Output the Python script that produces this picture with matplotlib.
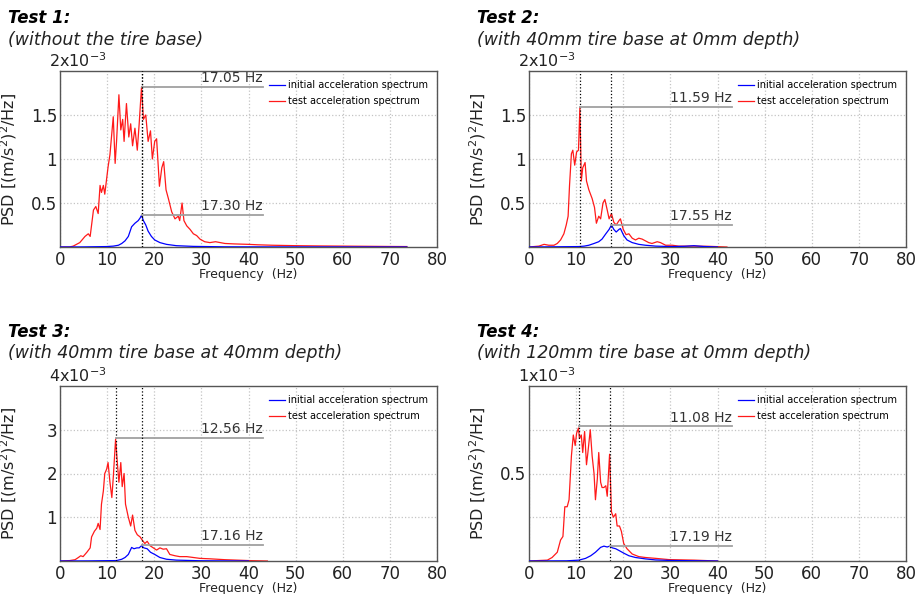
import numpy as np
import matplotlib
matplotlib.use('Agg')
import matplotlib.pyplot as plt

# ============================================================================
# DATA (PSD values in units of 1e-3 (m/s^2)^2/Hz)
# ============================================================================

titles = ['Test 1:', 'Test 2:', 'Test 3:', 'Test 4:']
subtitles = ['(without the tire base)',
             '(with 40mm tire base at 0mm depth)',
             '(with 40mm tire base at 40mm depth)',
             '(with 120mm tire base at 0mm depth)']

# --- Test 1 ---
t1_test_f = [0, 2, 2.8, 4.2, 5.3, 6.0, 6.4, 7.1, 7.6, 8.1, 8.5, 8.8, 9.2, 9.5, 10.2,
             10.6, 11.3, 11.7, 12.0, 12.5, 12.9, 13.3, 13.6, 14.1, 14.6, 15.0, 15.4,
             15.9, 16.4, 16.8, 17.3, 17.7, 18.2, 18.7, 19.2, 19.6, 20.1, 20.5, 21.1,
             21.6, 22.0, 22.5, 23.0, 23.7, 24.4, 25.1, 25.4, 25.9, 26.3, 26.9, 27.6,
             28.3, 29.0, 29.7, 30.7, 31.8, 33, 35, 37, 40, 42, 45, 50, 55, 60, 65, 70, 73.6]
t1_test_v = [0, 0, 0.01, 0.05, 0.12, 0.15, 0.12, 0.42, 0.46, 0.38, 0.70, 0.62, 0.70, 0.6, 0.91,
             1.05, 1.48, 0.95, 1.2, 1.73, 1.33, 1.45, 1.2, 1.63, 1.25, 1.4, 1.15,
             1.35, 1.1, 1.4, 1.82, 1.45, 1.5, 1.2, 1.32, 1.0, 1.2, 1.23, 0.69,
             0.9, 0.97, 0.65, 0.55, 0.4, 0.32, 0.35, 0.3, 0.5, 0.3, 0.24, 0.2,
             0.15, 0.13, 0.09, 0.06, 0.05, 0.06, 0.04, 0.035, 0.03, 0.025, 0.02, 0.015, 0.012, 0.01, 0.008, 0.006, 0.005]
t1_init_f = [0, 5, 9.9, 11.3, 12.4, 13.1, 13.8, 14.5, 15.2, 15.9, 16.6, 17.0, 17.3, 17.7,
             18.2, 18.7, 19.4, 20.1, 21.2, 22.6, 24.7, 28.3, 35, 45, 73.6]
t1_init_v = [0, 0.001, 0.005, 0.01, 0.02, 0.04, 0.07, 0.12, 0.23, 0.27, 0.3, 0.33, 0.36, 0.3,
             0.25, 0.18, 0.12, 0.08, 0.05, 0.03, 0.015, 0.007, 0.002, 0.001, 0]

# --- Test 2 ---
t2_test_f = [0, 2.1, 3.2, 4.2, 5.3, 6.0, 6.7, 7.4, 7.9, 8.3, 8.6, 9.0, 9.3, 9.7, 10.1, 10.5,
             10.8, 11.1, 11.4, 11.9, 12.2, 12.7, 13.4, 13.9, 14.3, 14.8, 15.2, 15.7, 16.1,
             16.6, 17.0, 17.5, 18.0, 18.5, 19.1, 19.4, 20.0, 20.6, 21.2, 21.9, 22.6, 23.3,
             24.0, 24.7, 25.4, 26.1, 27.2, 27.9, 29.0, 30.4, 31.8, 35, 38, 42]
t2_test_v = [0, 0.01, 0.03, 0.02, 0.02, 0.04, 0.08, 0.15, 0.25, 0.35, 0.7, 1.06, 1.1, 0.93, 1.08, 1.1,
             1.59, 0.75, 0.9, 0.96, 0.75, 0.65, 0.55, 0.45, 0.27, 0.35, 0.32, 0.5, 0.54,
             0.42, 0.32, 0.38, 0.28, 0.25, 0.3, 0.32, 0.2, 0.14, 0.15, 0.1, 0.08, 0.1,
             0.09, 0.07, 0.05, 0.04, 0.06, 0.05, 0.02, 0.02, 0.01, 0.01, 0.008, 0]
t2_init_f = [0, 5, 10.6, 11.7, 12.7, 13.8, 14.8, 15.5, 16.3, 17.0, 17.5, 18.0, 18.5, 19.1,
             19.4, 20.1, 20.8, 21.9, 23.3, 24.7, 26.9, 30, 33, 35, 37, 40]
t2_init_v = [0, 0.002, 0.005, 0.01, 0.02, 0.04, 0.06, 0.09, 0.15, 0.2, 0.25, 0.2, 0.17, 0.2,
             0.21, 0.13, 0.08, 0.05, 0.03, 0.02, 0.01, 0.005, 0.008, 0.015, 0.006, 0]

# --- Test 3 ---
t3_test_f = [0, 2.1, 3.2, 3.9, 4.4, 4.9, 5.7, 6.4, 6.7, 7.3, 7.8, 8.1, 8.5, 8.8, 9.2, 9.5,
             9.9, 10.2, 10.6, 11.0, 11.3, 11.8, 12.2, 12.5, 12.9, 13.2, 13.6, 13.9, 14.5,
             15.0, 15.4, 15.9, 16.4, 17.0, 17.3, 18.0, 18.5, 19.1, 19.8, 20.5, 21.2, 21.9,
             22.6, 23.3, 24.4, 25.4, 26.9, 28.3, 29.7, 31.8, 35, 40, 44]
t3_test_v = [0, 0.01, 0.03, 0.08, 0.12, 0.1, 0.2, 0.3, 0.55, 0.68, 0.75, 0.86, 0.72, 1.3, 1.6, 2.0,
             2.1, 2.25, 1.8, 1.45, 1.9, 2.79, 2.2, 1.8, 2.25, 1.7, 2.0, 1.3, 1.0,
             0.8, 1.05, 0.7, 0.6, 0.55, 0.5, 0.4, 0.45, 0.35, 0.3, 0.25, 0.3, 0.27,
             0.28, 0.15, 0.12, 0.1, 0.1, 0.08, 0.06, 0.05, 0.03, 0.01, 0]
t3_init_f = [0, 6, 12.0, 13.1, 13.8, 14.5, 15.2, 15.7, 16.3, 16.8, 17.3, 17.8, 18.5, 19.2,
             20.1, 21.2, 22.6, 24.7, 30, 40]
t3_init_v = [0, 0.002, 0.01, 0.04, 0.08, 0.15, 0.31, 0.28, 0.3, 0.3, 0.35, 0.3, 0.28, 0.2,
             0.15, 0.08, 0.04, 0.02, 0.005, 0]

# --- Test 4 ---
t4_test_f = [0, 3.9, 4.9, 6.0, 6.7, 7.2, 7.6, 8.1, 8.5, 9.0, 9.4, 9.8, 10.1, 10.5, 10.7, 11.1,
             11.4, 11.8, 12.2, 12.5, 13.0, 13.4, 13.8, 14.1, 14.5, 14.8, 15.2, 15.5, 15.9,
             16.3, 16.6, 17.1, 17.5, 17.9, 18.4, 18.7, 19.2, 19.6, 20.1, 20.8, 21.9, 23.3,
             24.7, 26.9, 29.7, 35, 40]
t4_test_v = [0, 0.005, 0.02, 0.05, 0.12, 0.14, 0.31, 0.31, 0.35, 0.6, 0.72, 0.66, 0.73, 0.76, 0.7, 0.72,
             0.62, 0.74, 0.55, 0.62, 0.75, 0.6, 0.5, 0.35, 0.47, 0.62, 0.45, 0.42, 0.42,
             0.43, 0.37, 0.61, 0.28, 0.25, 0.27, 0.2, 0.2, 0.17, 0.1, 0.07, 0.04, 0.025,
             0.02, 0.015, 0.008, 0.005, 0]
t4_init_f = [0, 8, 10.6, 12.0, 13.1, 14.1, 15.2, 15.9, 16.6, 17.1, 17.7, 18.4, 19.1, 20.1,
             21.2, 22.6, 24.7, 26.9, 30, 40]
t4_init_v = [0, 0.001, 0.005, 0.015, 0.03, 0.05, 0.078, 0.085, 0.08, 0.085, 0.075, 0.07, 0.06, 0.045,
             0.03, 0.02, 0.012, 0.006, 0.003, 0]

# peak markers: (frequency position, PSD level, label)
test_peaks = [(17.3, 1.82, '17.05 Hz'), (10.8, 1.59, '11.59 Hz'),
              (11.8, 2.82, '12.56 Hz'), (10.6, 0.77, '11.08 Hz')]
init_peaks = [(17.3, 0.364, '17.30 Hz'), (17.5, 0.25, '17.55 Hz'),
              (17.3, 0.366, '17.16 Hz'), (17.1, 0.086, '17.19 Hz')]

y_max = [2, 2, 4, 1]
y_grid = [[0.5, 1, 1.5], [0.5, 1, 1.5], [1, 2, 3], [0.25, 0.5, 0.75]]
y_ticklabels = [['0.5', '1', '1.5'], ['0.5', '1', '1.5'], ['1', '2', '3'], ['', '0.5', '']]
x_ticks = [0, 10, 20, 30, 40, 50, 60, 70, 80]

series = [(t1_init_f, t1_init_v, t1_test_f, t1_test_v),
          (t2_init_f, t2_init_v, t2_test_f, t2_test_v),
          (t3_init_f, t3_init_v, t3_test_f, t3_test_v),
          (t4_init_f, t4_init_v, t4_test_f, t4_test_v)]

# ============================================================================
# FIGURE
# ============================================================================

W, H = 923, 594
fig = plt.figure(figsize=(W / 100, H / 100), dpi=100)

# axes boxes in pixels: left, top, right, bottom
boxes = [(60, 71, 437, 247), (529, 71, 906, 247),
         (60, 386, 437, 561), (529, 386, 906, 561)]
title_pos = [(8, 23, 45), (477, 23, 45), (8, 337, 358), (477, 337, 358)]

for i in range(4):
    l, t, r, b = boxes[i]
    ax = fig.add_axes([l / W, 1 - b / H, (r - l) / W, (b - t) / H])
    fi, vi, ft, vt = series[i]

    ax.plot(fi, vi, color='#0000ff', lw=0.9, label='initial acceleration spectrum', zorder=3)
    ax.plot(ft, vt, color='#ff1a1a', lw=0.9, label='test acceleration spectrum', zorder=2)

    # peak markers
    for (px, py, lab) in (test_peaks[i], init_peaks[i]):
        ax.axvline(px, color='k', ls=':', lw=0.9, zorder=4)
        ax.plot([px, 43], [py, py], color='#a0a0a0', lw=1.3, zorder=4)
        ax.text(43, py + 0.01 * y_max[i], lab, ha='right', va='bottom',
                fontsize=10, color='#333333')

    ax.set_xlim(0, 80)
    ax.set_ylim(0, y_max[i])
    ax.set_xticks(x_ticks)
    ax.set_xticklabels([str(x) for x in x_ticks])
    ax.set_yticks(y_grid[i])
    ax.set_yticklabels(y_ticklabels[i])
    ax.grid(True, ls=':', color='#c4c4c4', lw=0.9)
    ax.tick_params(length=0, labelsize=12, colors='#222222')
    ax.tick_params(axis='x', pad=3)
    ax.tick_params(axis='y', pad=2)
    for s in ax.spines.values():
        s.set_color('#555555')
        s.set_linewidth(1.0)

    ax.set_xlabel('Frequency  (Hz)', fontsize=9, color='#222222')
    ax.xaxis.set_label_coords(0.5, -0.12)
    ax.set_ylabel(r'PSD [(m/s$^2$)$^2$/Hz]', fontsize=11.5, color='#222222')
    ax.yaxis.set_label_coords(-0.108, 0.5)

    ax.text(-0.03, 1.005, r'%dx10$^{-3}$' % y_max[i], transform=ax.transAxes,
            ha='left', va='bottom', fontsize=11.5, color='#222222')

    ax.legend(loc='upper right', frameon=False, fontsize=7, handlelength=1.6,
              handletextpad=0.3, borderaxespad=0.55, labelspacing=0.6)

    tx, ty1, ty2 = title_pos[i]
    fig.text(tx / W, 1 - ty1 / H, titles[i], fontsize=12, fontweight='bold',
             fontstyle='italic', va='baseline', ha='left')
    fig.text(tx / W, 1 - ty2 / H, subtitles[i], fontsize=12.5,
             fontstyle='italic', va='baseline', ha='left', color='#222222')

fig.savefig('out.png', dpi=100)
